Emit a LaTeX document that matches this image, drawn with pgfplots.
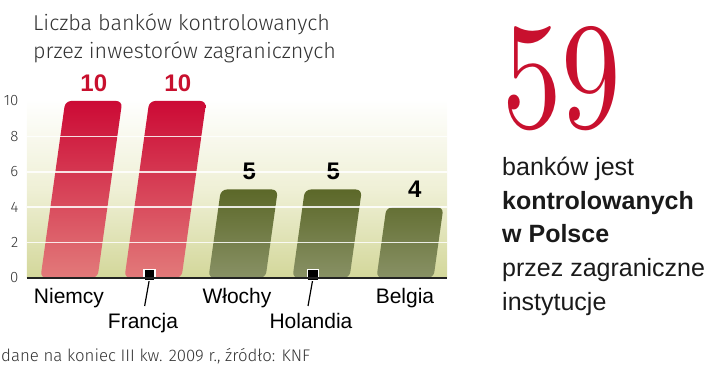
\documentclass[border=0pt]{standalone}
\usepackage{fontspec}
\setmainfont{Liberation Sans}
\newfontfamily\lightfont{Fira Sans Light}
\newfontfamily\lmfont{Latin Modern Roman}
\usepackage{pgfplots}
\pgfplotsset{compat=1.18}
\usepackage{pgfplotstable}

\definecolor{redtop}{HTML}{CC0A35}
\definecolor{redbot}{HTML}{E27A7A}
\definecolor{olivetop}{HTML}{5C6829}
\definecolor{olivebot}{HTML}{889165}
\definecolor{bgbot}{HTML}{D3D79A}
\definecolor{bgmid}{HTML}{EFF0D6}
\definecolor{numred}{HTML}{C8102E}
\definecolor{txt}{HTML}{1A1A1A}
\definecolor{lighttxt}{HTML}{333333}
\definecolor{axisc}{HTML}{222222}

\pgfplotstableread{
x y
0 10
1 10
}\redtab
\pgfplotstableread{
x y
2 5
3 5
4 4
}\olivetab

\begin{document}
\begin{tikzpicture}[x=1pt,y=1pt]
\path[use as bounding box] (0,0) rectangle (720,369);
\begin{axis}[
  at={(27pt,91pt)}, anchor=south west,
  scale only axis, width=420pt, height=178.8pt,
  xmin=-0.5, xmax=4.5, ymin=1, ymax=11.1,
  /pgf/number format/assume math mode=true,
  y filter/.expression={y+1},
  ytick={1,3,5,7,9,11}, yticklabels={0,2,4,6,8,10},
  yticklabel style={font=\lightfont\fontsize{15}{15}\selectfont, text=lighttxt, xshift=-3pt},
  xtick={0,1,2,3,4},
  xticklabels={Niemcy,{\vphantom{X}\\\hspace*{-20pt}Francja},Włochy,{\vphantom{X}\\\hspace*{-20pt}Holandia},Belgia},
  xticklabel style={align=center, font=\fontsize{21}{25}\selectfont, text=black, yshift=-5pt},
  extra y ticks={3,5,7,9}, extra y tick labels={},
  extra y tick style={grid=major},
  grid style={white, opacity=0.85, line width=1.5pt},
  axis on top,
  axis x line=bottom, axis y line=left,
  x axis line style={-, line width=2pt, draw=axisc},
  y axis line style={draw=none},
  tick style={draw=none},
  axis background/.style={top color=white, bottom color=bgbot, middle color=bgmid},
  clip mode=individual,
  point meta=explicit,
]
\addplot[ybar, bar width=57pt, bar shift=0pt, draw=none, top color=redtop, bottom color=redbot,
  rounded corners=6pt, xslant=0.14,
  nodes near coords={\pgfmathprintnumber[assume math mode=true]{\pgfplotspointmeta}},
  nodes near coords style={font=\bfseries\fontsize{24}{24}\selectfont, text=numred, anchor=south, yshift=6pt}]
  table[x=x, y=y, meta=y]{\redtab};
\addplot[ybar, bar width=57pt, bar shift=0pt, draw=none, top color=olivetop, bottom color=olivebot,
  rounded corners=6pt, xslant=0.14,
  nodes near coords={\pgfmathprintnumber[assume math mode=true]{\pgfplotspointmeta}},
  nodes near coords style={font=\bfseries\fontsize{24}{24}\selectfont, text=black, anchor=south, yshift=6pt}]
  table[x=x, y=y, meta=y]{\olivetab};
\draw[line width=1.2pt, black] (axis cs:0.96,1) -- ++(-5pt,-28pt);
\node[fill=black, draw=white, line width=1.8pt, minimum size=11pt, inner sep=0pt] at ([yshift=3pt]axis cs:0.96,1) {};
\draw[line width=1.2pt, black] (axis cs:2.905,1) -- ++(-5pt,-28pt);
\node[fill=black, draw=white, line width=1.8pt, minimum size=11pt, inner sep=0pt] at ([yshift=3pt]axis cs:2.905,1) {};
\end{axis}
% title
\node[anchor=base west, inner sep=0pt, font=\lightfont\fontsize{21.5}{21.5}\selectfont, text=lighttxt] at (33,338) {Liczba banków kontrolowanych};
\node[anchor=base west, inner sep=0pt, font=\lightfont\fontsize{21.5}{21.5}\selectfont, text=lighttxt] at (33,310.5) {przez inwestorów zagranicznych};
% big number
\node[anchor=south west, inner sep=0pt, text=numred] at (502,238) {\resizebox{119pt}{101pt}{\lmfont 59}};
% side text
\node[anchor=base west, inner sep=0pt, font=\fontsize{25}{25}\selectfont, text=txt] at (502,193) {banków jest};
\node[anchor=base west, inner sep=0pt, font=\bfseries\fontsize{25}{25}\selectfont, text=txt] at (502,159.5) {kontrolowanych};
\node[anchor=base west, inner sep=0pt, font=\bfseries\fontsize{25}{25}\selectfont, text=txt] at (502,126) {w Polsce};
\node[anchor=base west, inner sep=0pt, font=\fontsize{25}{25}\selectfont, text=txt] at (502,92.5) {przez zagraniczne};
\node[anchor=base west, inner sep=0pt, font=\fontsize{25}{25}\selectfont, text=txt] at (502,58) {instytucje};
% footnote
\node[anchor=base west, inner sep=0pt, font=\lightfont\fontsize{16.8}{16.8}\selectfont, text=lighttxt] at (1,7) {dane na koniec III kw. 2009 r., źródło: KNF};
\end{tikzpicture}
\end{document}
